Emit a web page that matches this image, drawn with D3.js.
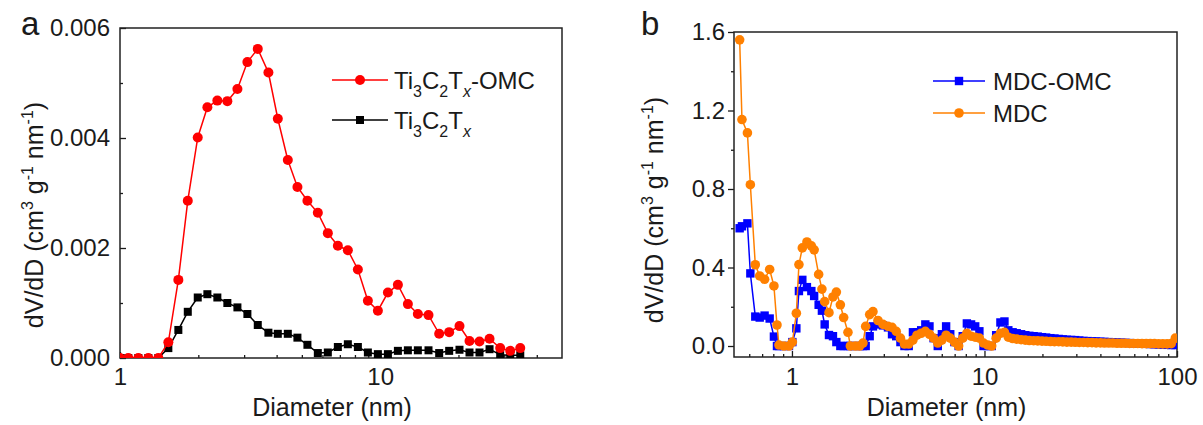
<!DOCTYPE html>
<html>
<head>
<meta charset="utf-8">
<script src="https://d3js.org/d3.v7.min.js"></script>
<style>
  body { margin: 0; background: #fff; }
  text { font-family: "Liberation Sans", Arial, sans-serif; fill: #1a1a1a; }
</style>
</head>
<body>
<svg id="chart" width="1203" height="425"></svg>
<script>
// ---- panel a: Ti3C2Tx-OMC vs Ti3C2Tx
const diamA = [1.0, 1.076, 1.176, 1.285, 1.404, 1.534, 1.676, 1.822, 1.99, 2.167,
  2.367, 2.586, 2.827, 3.088, 3.385, 3.719, 4.042, 4.416, 4.808, 5.253,
  5.76, 6.293, 6.877, 7.513, 8.21, 8.97, 9.8, 10.71, 11.7, 12.78,
  13.96, 15.34, 16.86, 18.42, 20.18, 22.05, 24.09, 26.33, 28.93, 31.62, 34.56];
const tiOmc = [0, 0, 0, 0, 0, 0.000285, 0.00142, 0.00286, 0.00401, 0.00456,
  0.00468, 0.00467, 0.00489, 0.00538, 0.00562, 0.00519, 0.00435, 0.0036, 0.00311, 0.00286,
  0.00264, 0.00227, 0.00204, 0.00196, 0.00161, 0.00104, 0.00086, 0.00119, 0.00133, 0.00098,
  0.0008, 0.00078, 0.00044, 0.00047, 0.00058, 0.00031, 0.0003, 0.00035, 0.00018, 0.00013, 0.00018];
const tiPlain = [0, 0, 0, 0, 0, 0.00018, 0.00051, 0.00084, 0.0011, 0.00116,
  0.0011, 0.001, 0.00092, 0.0008, 0.0006, 0.00046, 0.00044, 0.00044, 0.00037, 0.00024,
  0.00009, 0.0001, 0.0002, 0.00025, 0.0002, 0.0001, 0.00007, 0.00007, 0.00013, 0.00014,
  0.00014, 0.00014, 0.00009, 0.00013, 0.00015, 0.0001, 0.0001, 0.00016, 0.00006, 0.00005, 0.00005];
const xMajorA = [1, 10];
const xMinorA = [2, 3, 4, 5, 6, 7, 8, 9, 20, 30, 40];
const yMajorA = [0, 0.002, 0.004, 0.006];
const yMinorA = [0.001, 0.003, 0.005];

// ---- panel b: MDC-OMC vs MDC
const diamB = [0.535, 0.55, 0.587, 0.608, 0.645, 0.68, 0.721, 0.766, 0.806, 0.836,
  0.856, 0.909, 0.965, 1.005, 1.054, 1.087, 1.132, 1.196, 1.261, 1.304,
  1.376, 1.431, 1.479, 1.557, 1.633, 1.701, 1.784, 1.856, 1.954, 2.011,
  2.135, 2.247, 2.338, 2.415, 2.533, 2.635, 2.798, 2.97, 3.153,
  3.31, 3.48, 3.66, 3.84, 4.04, 4.25, 4.46, 4.69, 4.93, 5.18,
  5.44, 5.72, 6.01, 6.32, 6.64, 6.98, 7.34, 7.71, 8.10, 8.52,
  8.95, 9.41, 9.89, 10.4, 10.9, 11.5, 12.1, 12.7, 13.3, 14.0,
  14.7, 15.5, 16.3, 17.1, 18.0, 18.9, 19.9, 20.9, 22.0, 23.1,
  24.3, 25.5, 26.8, 28.2, 29.6, 31.1, 32.7, 34.4, 36.2, 38.0,
  40.0, 42.0, 44.2, 46.4, 48.8, 51.3, 53.9, 56.7, 59.6, 62.6,
  65.8, 69.2, 72.7, 76.4, 80.3, 84.4, 88.8, 93.3, 98.0];
const mdcOmc = [0.60, 0.61, 0.625, 0.37, 0.15, 0.145, 0.155, 0.14, 0.048, 0,
  0, 0, 0, 0.02, 0.09, 0.28, 0.337, 0.30, 0.28, 0.255,
  0.21, 0.18, 0.11, 0.056, 0.05, 0.02, 0, 0, 0, 0,
  0, 0, 0, 0, 0.05, 0.1, 0.11, 0.105, 0.095,
  0.06, 0.05, 0.02, 0, 0, 0.07, 0.07, 0.08, 0.11, 0.1,
  0.04, 0, 0.06, 0.1, 0.06, 0.02, 0, 0.05, 0.115, 0.11,
  0.1, 0.075, 0, 0, 0, 0.055, 0.12, 0.125, 0.08, 0.07,
  0.065, 0.06, 0.055, 0.052, 0.05, 0.048, 0.045, 0.043, 0.04, 0.038,
  0.036, 0.034, 0.032, 0.031, 0.03, 0.028, 0.026, 0.025, 0.024, 0.023,
  0.022, 0.021, 0.02, 0.019, 0.018, 0.017, 0.016, 0.015, 0.014, 0.013,
  0.012, 0.011, 0.01, 0.009, 0.008, 0.007, 0.006, 0.005, 0.005];
const mdc = [1.56, 1.154, 1.086, 0.822, 0.414, 0.357, 0.34, 0.39, 0.306, 0.107,
  0.005, 0, 0, 0.02, 0.167, 0.415, 0.5, 0.53, 0.51, 0.49,
  0.365, 0.29, 0.226, 0.17, 0.25, 0.275, 0.21, 0.145, 0.07, 0,
  0, 0, 0.015, 0.1, 0.16, 0.175, 0.13, 0.11, 0.10,
  0.095, 0.075, 0.04, 0.01, 0.01, 0.03, 0.055, 0.065, 0.075, 0.06,
  0.04, 0.015, 0.03, 0.055, 0.04, 0.02, 0.0, 0.04, 0.065, 0.05,
  0.045, 0.04, 0.015, 0.005, 0.0, 0.04, 0.065, 0.07, 0.045, 0.038,
  0.035, 0.032, 0.03, 0.028, 0.027, 0.026, 0.025, 0.024, 0.023, 0.022,
  0.022, 0.021, 0.02, 0.02, 0.019, 0.018, 0.018, 0.017, 0.017, 0.016,
  0.016, 0.015, 0.015, 0.015, 0.014, 0.014, 0.014, 0.013, 0.013, 0.013,
  0.012, 0.012, 0.012, 0.012, 0.011, 0.011, 0.011, 0.012, 0.04];
const xMajorB = [1, 10, 100];
const xMinorB = [0.6, 0.7, 0.8, 0.9, 2, 3, 4, 5, 6, 7, 8, 9, 20, 30, 40, 50, 60, 70, 80, 90];
const yMajorB = [0, 0.4, 0.8, 1.2, 1.6];
const yMinorB = [0.2, 0.6, 1.0, 1.4];

const svg = d3.select("#chart");
const ink = "#1a1a1a";

function panel(cfg) {
  const { left, right, top, bottom } = cfg.box;
  const x = d3.scaleLog().domain(cfg.xDomain).range([left, right]);
  const y = d3.scaleLinear().domain(cfg.yDomain).range([bottom, top]);
  const g = svg.append("g");

  // x axis
  const xs = cfg.xInward ? -1 : 1;
  g.append("g").attr("transform", `translate(0,${bottom})`).style("color", ink)
    .call(d3.axisBottom(x).tickValues(cfg.xMinor).tickSizeInner(3 * xs).tickSizeOuter(0).tickFormat(""))
    .call(s => s.select(".domain").remove());
  g.append("g").attr("transform", `translate(0,${bottom})`).style("color", ink)
    .call(d3.axisBottom(x).tickValues(cfg.xMajor).tickSizeInner(6 * xs).tickSizeOuter(0)
      .tickPadding(cfg.xPad).tickFormat(d3.format("")))
    .call(s => s.select(".domain").remove())
    .call(s => s.selectAll("text").style("font-size", "24px"));

  // y axis
  const ys = cfg.yInward ? -1 : 1;
  g.append("g").attr("transform", `translate(${left},0)`).style("color", ink)
    .call(d3.axisLeft(y).tickValues(cfg.yMinor).tickSizeInner(3 * ys).tickSizeOuter(0).tickFormat(""))
    .call(s => s.select(".domain").remove());
  g.append("g").attr("transform", `translate(${left},0)`).style("color", ink)
    .call(d3.axisLeft(y).tickValues(cfg.yMajor).tickSizeInner(6 * ys).tickSizeOuter(0)
      .tickPadding(cfg.yPad).tickFormat(d3.format(cfg.yFormat)))
    .call(s => s.select(".domain").remove())
    .call(s => s.selectAll("text").style("font-size", "24px"));
  g.selectAll(".tick line").attr("stroke-width", 1.3);

  // frame
  g.append("rect").attr("x", left).attr("y", top)
    .attr("width", right - left).attr("height", bottom - top)
    .attr("fill", "none").attr("stroke", "#222").attr("stroke-width", 1.5);

  const clipId = "clip" + cfg.id;
  svg.append("clipPath").attr("id", clipId).append("rect")
    .attr("x", left).attr("y", top).attr("width", right - left).attr("height", bottom - top);
  const plot = g.append("g").attr("clip-path", `url(#${clipId})`);

  cfg.series.forEach(s => {
    const pts = cfg.diam.map((d, i) => [d, s.values[i]]);
    plot.append("path").datum(pts)
      .attr("fill", "none").attr("stroke", s.color).attr("stroke-width", 1.5)
      .attr("d", d3.line().x(d => x(d[0])).y(d => y(d[1])));
    drawMarkers(plot, pts.map(d => [x(d[0]), y(d[1])]), s);
  });

  // legend
  cfg.series.slice().reverse().forEach((s, i) => {
    const ly = cfg.legend.y[i];
    g.append("line").attr("x1", cfg.legend.x1).attr("x2", cfg.legend.x2)
      .attr("y1", ly).attr("y2", ly).attr("stroke", s.color).attr("stroke-width", 1.5);
    drawMarkers(g, [[(cfg.legend.x1 + cfg.legend.x2) / 2, ly]], s);
    const t = g.append("text").attr("x", cfg.legend.tx).attr("y", ly + 9).style("font-size", "24px");
    s.label(t);
  });

  // axis titles
  g.append("text").attr("x", (left + right) / 2 - 9).attr("y", 416)
    .attr("text-anchor", "middle").style("font-size", "25px").text("Diameter (nm)");
  const yt = g.append("text")
    .attr("transform", `translate(${cfg.yTitleX},${cfg.yTitleY}) rotate(-90)`)
    .attr("text-anchor", "middle").style("font-size", "25px");
  yt.append("tspan").text("dV/dD (cm");
  yt.append("tspan").attr("dy", -10).style("font-size", "16px").text("3");
  yt.append("tspan").attr("dy", 10).text(" g");
  yt.append("tspan").attr("dy", -10).style("font-size", "16px").text("-1");
  yt.append("tspan").attr("dy", 10).text(" nm");
  yt.append("tspan").attr("dy", -10).style("font-size", "16px").text("-1");
  yt.append("tspan").attr("dy", 10).text(")");

  g.append("text").attr("x", cfg.letter.x).attr("y", 35)
    .style("font-size", "33px").text(cfg.letter.t);
}

function drawMarkers(g, pts, s) {
  if (s.shape === "circle") {
    g.selectAll(null).data(pts).join("circle")
      .attr("cx", d => d[0]).attr("cy", d => d[1]).attr("r", s.size)
      .attr("fill", s.color);
  } else {
    g.selectAll(null).data(pts).join("rect")
      .attr("x", d => d[0] - s.size).attr("y", d => d[1] - s.size)
      .attr("width", 2 * s.size).attr("height", 2 * s.size)
      .attr("fill", s.color);
  }
}

function tiLabel(suffix) {
  return t => {
    t.append("tspan").text("Ti");
    t.append("tspan").attr("dy", 8).style("font-size", "16px").text("3");
    t.append("tspan").attr("dy", -8).text("C");
    t.append("tspan").attr("dy", 8).style("font-size", "16px").text("2");
    t.append("tspan").attr("dy", -8).text("T");
    t.append("tspan").attr("dy", 8).style("font-size", "16px").style("font-style", "italic").text("x");
    t.append("tspan").attr("dy", -8).text(suffix);
  };
}

panel({
  id: "a",
  box: { left: 120, right: 562, top: 28, bottom: 358 },
  xDomain: [1, 50], yDomain: [0, 0.006],
  xMajor: xMajorA, xMinor: xMinorA, yMajor: yMajorA, yMinor: yMinorA,
  xInward: true, yInward: true, xPad: 10, yPad: 10, yFormat: ".3f",
  diam: diamA,
  series: [
    { values: tiPlain, color: "#000000", shape: "square", size: 4, label: tiLabel("") },
    { values: tiOmc, color: "#ff0000", shape: "circle", size: 5, label: tiLabel("-OMC") }
  ],
  legend: { x1: 332, x2: 388, tx: 394, y: [80, 120] },
  yTitleX: 43, yTitleY: 215,
  letter: { x: 21, t: "a" }
});

panel({
  id: "b",
  box: { left: 734, right: 1177, top: 32, bottom: 357 },
  xDomain: [0.5, 100], yDomain: [-0.056, 1.6],
  xMajor: xMajorB, xMinor: xMinorB, yMajor: yMajorB, yMinor: yMinorB,
  xInward: true, yInward: false, xPad: 11, yPad: 3, yFormat: ".1f",
  diam: diamB,
  series: [
    { values: mdcOmc, color: "#0000ff", shape: "square", size: 4.2, label: t => t.text("MDC-OMC") },
    { values: mdc, color: "#ff8000", shape: "circle", size: 4.8, label: t => t.text("MDC") }
  ],
  legend: { x1: 933, x2: 985, tx: 993, y: [81, 113].reverse() },
  yTitleX: 663, yTitleY: 210,
  letter: { x: 641, t: "b" }
});
</script>
</body>
</html>
